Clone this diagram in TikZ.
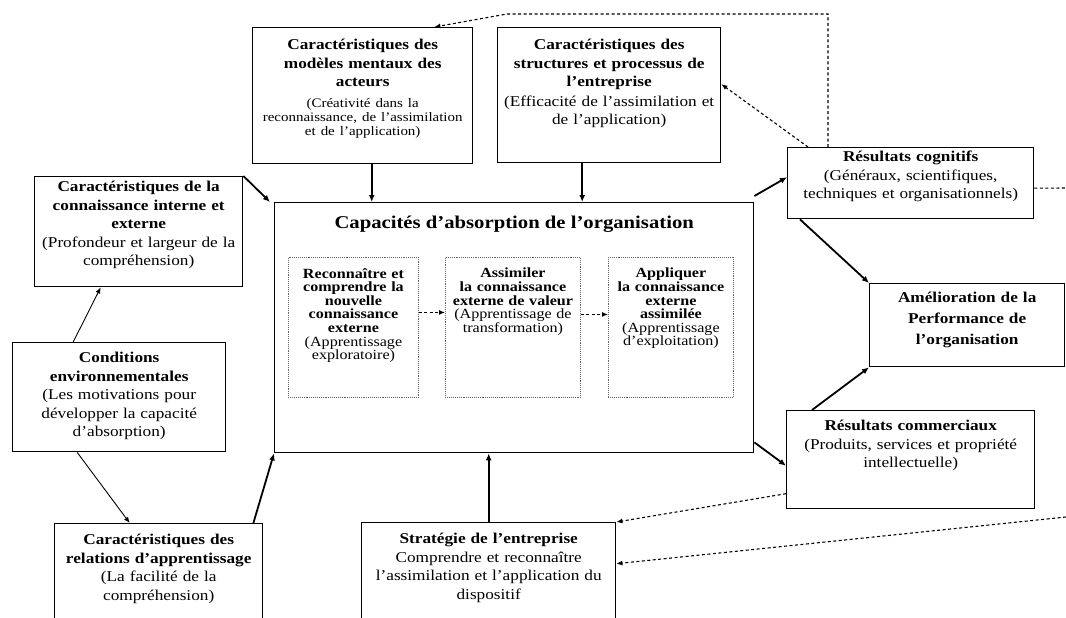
\documentclass[tikz,border=0pt]{standalone}
\usepackage{fontspec}
\setmainfont{Liberation Serif}[FakeStretch=1.15]
\usetikzlibrary{arrows.meta,positioning}

\newcommand\tgrand{\fontsize{15}{18.5}\selectfont}
\newcommand\tpetit{\fontsize{13}{13.8}\selectfont}
\newcommand\tinterne{\fontsize{14}{13.6}\selectfont}
\newcommand\ttitre{\fontsize{18}{20}\selectfont}

\tikzset{
  cadre/.style={draw=black, line width=1.4pt, inner sep=0pt, anchor=north west},
  interne/.style={draw=black!60, densely dotted, line width=0.9pt, inner sep=0pt, anchor=north west},
  texte/.style={inner sep=0pt, align=center, font=\tgrand},
  fleche/.style={line width=1.8pt, -{Latex[length=7pt,width=6pt]}},
  fine/.style={line width=0.9pt, -{Latex[length=6pt,width=5pt]}},
  tirets/.style={draw=black, line width=1.1pt, dash pattern=on 3pt off 2.5pt, -{Latex[length=6pt,width=5pt]}},
}

\begin{document}
\begin{tikzpicture}[x=1pt,y=-1pt]
    \clip (0,0) rectangle (1066,618);

    % cadres
    \node[cadre, minimum width=220pt, minimum height=136pt] (modeles) at (252,27) {};
    \node[cadre, minimum width=223pt, minimum height=135pt] (structures) at (497,27) {};
    \node[cadre, minimum width=208pt, minimum height=110pt] (connaissance) at (34,176) {};
    \node[cadre, minimum width=213pt, minimum height=109pt] (conditions) at (12,342) {};
    \node[cadre, minimum width=208pt, minimum height=120pt] (relations) at (54,523) {};
    \node[cadre, minimum width=254pt, minimum height=120pt] (strategie) at (361,522) {};
    \node[cadre, minimum width=479pt, minimum height=250pt] (capacite) at (274,202) {};
    \node[cadre, minimum width=246pt, minimum height=71pt] (cognitifs) at (787,147) {};
    \node[cadre, minimum width=195pt, minimum height=83pt] (amelioration) at (869,283) {};
    \node[cadre, minimum width=248pt, minimum height=98pt] (commerciaux) at (786,410) {};

    \node[interne, minimum width=130pt, minimum height=140pt] (reconnaitre) at (288,257) {};
    \node[interne, minimum width=135pt, minimum height=140pt] (assimiler) at (445,257) {};
    \node[interne, minimum width=125pt, minimum height=140pt] (appliquer) at (608,257) {};

    % textes
    \node[texte, text width=216pt, below=12pt of modeles.north] (modeles-t)
      {{\bfseries Caractéristiques des\\ modèles mentaux des\\ acteurs\par}\vspace{7pt}
       \tpetit (Créativité dans la\\ reconnaissance, de l’assimilation\\ et de l’application)\par};
    \node[texte, text width=219pt, below=12pt of structures.north] (structures-t)
      {{\bfseries Caractéristiques des\\ structures et processus de\\ l’entreprise\par}\vspace{1pt}
       (Efficacité de l’assimilation et\\ de l’application)\par};
    \node[texte, text width=204pt, below=5pt of connaissance.north] (connaissance-t)
      {{\bfseries Caractéristiques de la\\ connaissance interne et\\ externe\par}
       (Profondeur et largeur de la\\ compréhension)\par};
    \node[texte, text width=209pt, below=10pt of conditions.north] (conditions-t)
      {{\bfseries Conditions\\ environnementales\par}
       (Les motivations pour\\ développer la capacité\\ d’absorption)\par};
    \node[texte, text width=204pt, below=11pt of relations.north] (relations-t)
      {{\bfseries Caractéristiques des\\ relations d’apprentissage\par}
       (La facilité de la\\ compréhension)\par};
    \node[texte, text width=250pt, below=11pt of strategie.north] (strategie-t)
      {{\bfseries Stratégie de l’entreprise\par}
       Comprendre et reconnaître\\ l’assimilation et l’application du\\ dispositif\par};
    \node[texte, text width=242pt, below=4pt of cognitifs.north] (cognitifs-t)
      {{\bfseries Résultats cognitifs\par}
       (Généraux, scientifiques,\\ techniques et organisationnels)\par};
    \node[texte, text width=191pt, font=\fontsize{15}{21}\selectfont\bfseries,
          below=9pt of amelioration.north] (amelioration-t)
      {Amélioration de la\\ Performance de\\ l’organisation\par};
    \node[texte, text width=244pt, below=10pt of commerciaux.north] (commerciaux-t)
      {{\bfseries Résultats commerciaux\par}
       (Produits, services et propriété\\ intellectuelle)\par};

    \node[texte, font=\ttitre\bfseries, below=14pt of capacite.north] (capacite-t)
      {Capacités d’absorption de l’organisation};
    \node[texte, font=\tinterne, text width=128pt, below=11pt of reconnaitre.north] (reconnaitre-t)
      {{\bfseries Reconnaître et\\ comprendre la\\ nouvelle\\ connaissance\\ externe\par}
       (Apprentissage\\ exploratoire)\par};
    \node[texte, font=\tinterne, text width=133pt, below=11pt of assimiler.north] (assimiler-t)
      {{\bfseries Assimiler\\ la connaissance\\ externe de valeur\par}
       (Apprentissage de\\ transformation)\par};
    \node[texte, font=\tinterne, text width=123pt, below=11pt of appliquer.north] (appliquer-t)
      {{\bfseries Appliquer\\ la connaissance\\ externe\\ assimilée\par}
       (Apprentissage\\ d’exploitation)\par};

    % fleches pleines
    \draw[fleche] ([xshift=9pt]modeles.south) -- ([xshift=9pt]modeles.south |- capacite.north);
    \draw[fleche] ([xshift=-27pt]structures.south) -- ([xshift=-27pt]structures.south |- capacite.north);
    \draw[fleche] (connaissance.north east) -- ([xshift=-4pt]capacite.north west);
    \draw[fine] ([xshift=-46pt]conditions.north) -- ([xshift=-38pt]connaissance.south);
    \draw[fine] ([xshift=-42pt]conditions.south) -- ([xshift=-29pt]relations.north);
    \draw[fleche] ([xshift=-10pt]relations.north east) -- (capacite.south west);
    \draw[fleche] (strategie.north) -- (strategie.north |- capacite.south);
    \draw[fleche] ([yshift=6pt]capacite.north east) -- ([yshift=6pt]cognitifs.west);
    \draw[fleche] ([yshift=11pt]capacite.south east) -- ([yshift=-6pt]commerciaux.west);
    \draw[fleche] ([xshift=13pt]cognitifs.south west) -- (amelioration.north west);
    \draw[fleche] ([xshift=26pt]commerciaux.north west) -- (amelioration.south west);

    % tirets
    \coordinate (coude) at (507,14);
    \coordinate (bordA) at (1066,188);
    \coordinate (bordB) at (1066,517);
    \draw[tirets] ([yshift=15pt]reconnaitre.east) -- ([yshift=15pt]assimiler.west);
    \draw[tirets] ([yshift=13pt]assimiler.east) -- ([yshift=13pt]appliquer.west);
    \draw[tirets] ([xshift=41pt]cognitifs.north west) |- (coude) -- ([xshift=-39pt]modeles.north east);
    \draw[tirets] ([xshift=21pt]cognitifs.north west) -- ([yshift=11pt]structures.east);
    \draw[tirets, -] ([yshift=-5pt]cognitifs.east) -- (bordA);
    \draw[tirets] ([yshift=-34pt]commerciaux.west) -- (strategie.north east);
    \draw[tirets] (bordB) -- ([yshift=19pt]strategie.east);
\end{tikzpicture}
\end{document}
